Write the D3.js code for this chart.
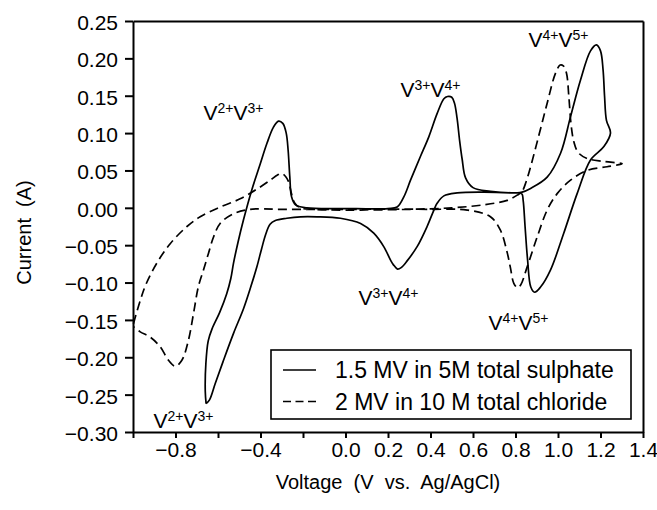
<!DOCTYPE html>
<html>
<head>
<meta charset="utf-8">
<script src="https://cdn.jsdelivr.net/npm/d3@7"></script>
<style>
  html, body { margin: 0; padding: 0; background: #fff; }
  svg { display: block; }
  text { font-family: "Liberation Sans", Arial, sans-serif; fill: #000; }
</style>
</head>
<body>
<svg id="chart" width="657" height="510"></svg>
<script>
// ---------------- data ----------------
// 1.5 M V in 5 M total sulphate (solid), one full cycle starting at the negative vertex
const sulphateV = [
  -0.656,-0.660,-0.657,-0.646,-0.628,-0.592,-0.559,-0.540,-0.527,-0.505,-0.480,-0.441,-0.401,-0.370,-0.339,-0.315,
  -0.295,-0.279,-0.270,-0.262,-0.254,-0.235,-0.182,0.000,0.200,0.243,0.275,0.306,0.353,0.392,0.431,0.463,
  0.480,0.500,0.513,0.525,0.537,0.549,0.565,0.600,0.682,0.808,0.831,0.871,0.949,1.012,1.059,1.106,
  1.153,1.181,1.200,1.212,1.219,1.228,1.247,
  1.216,1.153,1.090,1.027,0.965,0.918,0.890,0.872,0.857,0.845,0.836,0.829,0.780,0.650,0.526,0.463,
  0.431,0.416,0.384,0.337,0.290,0.262,0.245,0.225,0.212,0.180,0.133,0.071,-0.024,-0.133,-0.212,-0.276,
  -0.330,-0.355,-0.375,-0.395,-0.417,-0.445,-0.480,-0.527,-0.574,-0.613,-0.640,-0.656
];
const sulphateI = [
  -0.262,-0.245,-0.208,-0.178,-0.162,-0.140,-0.115,-0.095,-0.074,-0.045,-0.016,0.024,0.059,0.086,0.108,0.116,
  0.113,0.100,0.077,0.041,0.015,0.004,0.000,-0.001,-0.001,0.001,0.015,0.037,0.069,0.095,0.126,0.146,
  0.149,0.148,0.140,0.120,0.090,0.065,0.040,0.027,0.022,0.020,0.021,0.026,0.041,0.073,0.122,0.171,
  0.210,0.218,0.210,0.185,0.150,0.117,0.100,
  0.082,0.064,0.019,-0.034,-0.083,-0.106,-0.113,-0.106,-0.070,-0.025,0.010,0.019,0.020,0.021,0.020,0.016,
  0.006,-0.003,-0.025,-0.052,-0.071,-0.080,-0.082,-0.076,-0.070,-0.052,-0.034,-0.021,-0.014,-0.012,-0.012,-0.014,
  -0.017,-0.022,-0.035,-0.055,-0.079,-0.105,-0.135,-0.168,-0.204,-0.235,-0.257,-0.262
];

// 2 M V in 10 M total chloride (dashed)
const chlorideV = [
  -0.998,-0.966,-0.940,-0.888,-0.825,-0.746,-0.684,-0.590,-0.496,-0.417,-0.354,-0.320,-0.300,-0.282,-0.268,-0.255,
  -0.240,-0.213,-0.151,0.000,0.300,0.500,0.651,0.761,0.808,0.831,0.850,0.871,0.910,0.949,0.988,1.010,
  1.025,1.040,1.051,1.062,1.075,1.095,1.137,1.216,1.302,
  1.231,1.137,1.059,0.996,0.949,0.902,0.855,0.825,0.810,0.792,0.776,0.761,0.729,0.682,0.573,0.400,
  0.000,-0.300,-0.449,-0.527,-0.590,-0.621,-0.645,-0.668,-0.692,-0.715,-0.739,-0.770,-0.801,-0.833,-0.872,-0.919,
  -0.966,-0.998
];
const chlorideI = [
  -0.155,-0.124,-0.103,-0.074,-0.048,-0.025,-0.012,0.001,0.012,0.025,0.037,0.044,0.046,0.042,0.035,0.020,
  0.007,0.000,-0.002,-0.003,-0.002,0.000,0.004,0.010,0.017,0.022,0.035,0.055,0.097,0.140,0.180,0.191,
  0.190,0.180,0.149,0.110,0.088,0.074,0.066,0.062,0.059,
  0.055,0.050,0.037,0.019,-0.003,-0.039,-0.079,-0.103,-0.107,-0.101,-0.080,-0.060,-0.030,-0.012,-0.003,-0.002,
  -0.002,-0.002,-0.002,-0.008,-0.021,-0.039,-0.061,-0.083,-0.105,-0.141,-0.177,-0.204,-0.212,-0.204,-0.186,-0.173,
  -0.166,-0.159
];

const seriesNames = ["1.5 MV in 5M total sulphate", "2 MV in 10 M total chloride"];

const xTickValues = [-1.0,-0.8,-0.6,-0.4,-0.2,0.0,0.2,0.4,0.6,0.8,1.0,1.2,1.4];
const xLabelled   = [-0.8,-0.4,0.0,0.2,0.4,0.6,0.8,1.0,1.2,1.4];
const yTickValues = [-0.30,-0.25,-0.20,-0.15,-0.10,-0.05,0.00,0.05,0.10,0.15,0.20,0.25];

// redox couple annotations: [V, I (baseline), first ion charge, second ion charge]
const annotV = [-0.668, 0.259, 0.861, 0.061, 0.673, -0.904];
const annotI = [0.117, 0.148, 0.215, -0.130, -0.164, -0.295];
const annotA = ["2+", "3+", "4+", "3+", "4+", "2+"];
const annotB = ["3+", "4+", "5+", "4+", "5+", "3+"];

const xTitle = "Voltage  (V  vs.  Ag/AgCl)";
const yTitle = "Current  (A)";

// ---------------- drawing ----------------
const svg = d3.select("#chart");
const L = 133, R = 643, T = 21, B = 432;
const x = d3.scaleLinear().domain([-1.0, 1.4]).range([L, R]);
const y = d3.scaleLinear().domain([-0.30, 0.25]).range([B, T]);

const fx = d3.format(".1f"), fy = d3.format(".2f");
const lab = new Set(xLabelled.map(v => v.toFixed(1)));

// frame (top/right)
svg.append("g").attr("transform", `translate(0,${T})`)
  .call(d3.axisTop(x).tickValues([]).tickSizeOuter(0))
  .call(g => g.select(".domain").attr("stroke-width", 2));
svg.append("g").attr("transform", `translate(${R},0)`)
  .call(d3.axisRight(y).tickValues([]).tickSizeOuter(0))
  .call(g => g.select(".domain").attr("stroke-width", 2));

// bottom axis
const gx = svg.append("g").attr("transform", `translate(0,${B})`)
  .call(d3.axisBottom(x).tickValues(xTickValues).tickSize(6).tickSizeOuter(0).tickPadding(4)
    .tickFormat(v => lab.has(v.toFixed(1)) ? fx(v) : ""));
gx.select(".domain").attr("stroke-width", 2);
gx.selectAll(".tick line").attr("stroke-width", 2);
gx.selectAll("text").attr("font-size", 21).attr("font-family", "Liberation Sans, Arial, sans-serif");

// left axis
const gy = svg.append("g").attr("transform", `translate(${L},0)`)
  .call(d3.axisLeft(y).tickValues(yTickValues).tickSize(8).tickSizeOuter(0).tickPadding(7).tickFormat(fy));
gy.select(".domain").attr("stroke-width", 2);
gy.selectAll(".tick line").attr("stroke-width", 2);
gy.selectAll("text").attr("font-size", 21).attr("dy", "0.4em").attr("font-family", "Liberation Sans, Arial, sans-serif");

// axis titles
svg.append("text").attr("x", (L + R) / 2).attr("y", 489).attr("text-anchor", "middle")
  .attr("font-size", 20).style("white-space", "pre").text(xTitle);
svg.append("text").attr("transform", `translate(31,${(T + B) / 2 + 6}) rotate(-90)`)
  .attr("text-anchor", "middle").attr("font-size", 20).style("white-space", "pre").text(yTitle);

// curves
const line = d3.line().x(d => x(d[0])).y(d => y(d[1])).curve(d3.curveCatmullRom.alpha(0.5));
const sulphate = sulphateV.map((v, i) => [v, sulphateI[i]]);
const chloride = chlorideV.map((v, i) => [v, chlorideI[i]]);
svg.append("path").datum(chloride).attr("d", line)
  .attr("fill", "none").attr("stroke", "#000").attr("stroke-width", 1.7).attr("stroke-dasharray", "9,5");
svg.append("path").datum(sulphate).attr("d", line)
  .attr("fill", "none").attr("stroke", "#000").attr("stroke-width", 1.7);

// annotations
annotV.forEach((v, i) => {
  const t = svg.append("text").attr("x", x(v)).attr("y", y(annotI[i])).attr("font-size", 21);
  t.append("tspan").text("V");
  t.append("tspan").attr("dy", -7).attr("font-size", 14).text(annotA[i]);
  t.append("tspan").attr("dy", 7).text("V");
  t.append("tspan").attr("dy", -7).attr("font-size", 14).text(annotB[i]);
});

// legend
const lg = svg.append("g");
lg.append("rect").attr("x", 271).attr("y", 350).attr("width", 360).attr("height", 69)
  .attr("fill", "#fff").attr("stroke", "#000").attr("stroke-width", 1.6);
const dashes = [null, "8,4.5"];
seriesNames.forEach((name, i) => {
  const yy = 370 + i * 31.5;
  lg.append("line").attr("x1", 283).attr("x2", 316).attr("y1", yy).attr("y2", yy)
    .attr("stroke", "#000").attr("stroke-width", 1.7).attr("stroke-dasharray", dashes[i]);
  lg.append("text").attr("x", 335).attr("y", yy + 8).attr("font-size", 23).text(name);
});
</script>
</body>
</html>
